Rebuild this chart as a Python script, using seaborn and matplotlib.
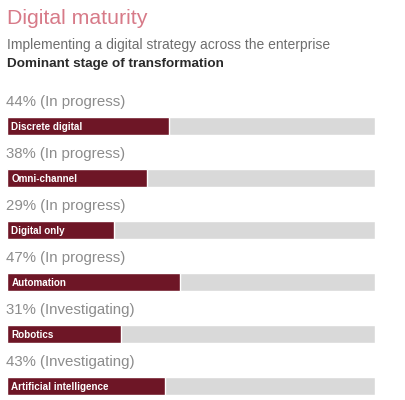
import matplotlib
matplotlib.use("Agg")
import matplotlib.pyplot as plt
import seaborn as sns
import pandas as pd

categories = ["Discrete digital", "Omni-channel", "Digital only",
              "Automation", "Robotics", "Artificial intelligence"]
values = [44, 38, 29, 47, 31, 43]
stages = ["In progress", "In progress", "In progress",
          "In progress", "Investigating", "Investigating"]

sns.set_style("white")
plt.rcParams['font.family'] = ['Liberation Sans', 'DejaVu Sans']

df = pd.DataFrame({"cat": categories, "val": values, "full": [100] * len(values)})

fig = plt.figure(figsize=(4.06, 4.0), dpi=100)
fig.patch.set_facecolor("white")

# bar area: x 7..375 px, bar centres at y=126+52*i px
ax = fig.add_axes([7 / 406, 0, 368 / 406, 310 / 400])
sns.barplot(data=df, x="full", y="cat", color="#d9d9d9", width=0.35,
            saturation=1, ax=ax, orient="h")
sns.barplot(data=df, x="val", y="cat", color="#6e1626", width=0.35,
            saturation=1, ax=ax, orient="h")
ax.set_xlim(0, 100)
ax.set_ylim((400 - 126) / 52, (90 - 126) / 52)
ax.axis("off")

for i, (c, v, s) in enumerate(zip(categories, values, stages)):
    ax.text(-0.3, i - 0.46, f"{v}% ({s})", color="#8c8c8c", fontsize=10.8,
            va="center", ha="left")
    ax.text(1.2, i + 0.01, c, color="white", fontsize=7.1, fontweight="bold",
            va="center", ha="left")

fig.text(7 / 406, 1 - 19 / 400, "Digital maturity", color="#d77a88",
         fontsize=15.3, va="center", ha="left")
fig.text(7 / 406, 1 - 45 / 400, "Implementing a digital strategy across the enterprise",
         color="#6e6e6e", fontsize=10, va="center", ha="left")
fig.text(7 / 406, 1 - 64 / 400, "Dominant stage of transformation",
         color="#2a2a2a", fontsize=9.7, fontweight="bold", va="center", ha="left")

fig.savefig("out.png", dpi=100, facecolor="white")
